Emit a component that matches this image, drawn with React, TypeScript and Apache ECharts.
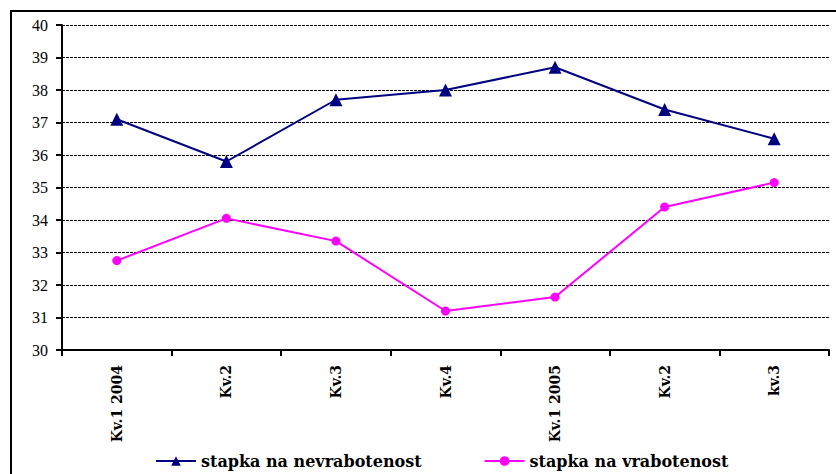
import React, { useEffect, useRef } from "react";
import * as echarts from "echarts";

const categories = ["Kv.1 2004", "Kv.2", "Kv.3", "Kv.4", "Kv.1 2005", "Kv.2", "kv.3"];
const unemployment = [37.1, 35.8, 37.7, 38.0, 38.7, 37.4, 36.5];
const employment = [32.75, 34.05, 33.35, 31.2, 31.63, 34.4, 35.15];
const seriesNames = ["stapka na nevrabotenost", "stapka na vrabotenost"];

export default function App() {
  const ref = useRef<HTMLDivElement>(null);
  useEffect(() => {
    const chart = echarts.init(ref.current!, null, { renderer: "svg" });
    chart.setOption({
      animation: false,
      backgroundColor: "#ffffff",
      graphic: [
        {
          type: "rect",
          shape: { x: 11, y: 11, width: 840, height: 480 },
          style: { fill: "none", stroke: "#000", lineWidth: 2 },
          silent: true,
        },
      ],
      grid: { left: 62, right: 7, top: 25, bottom: 124 },
      legend: {
        bottom: 0,
        left: 150,
        itemWidth: 40,
        itemHeight: 12,
        itemGap: 62,
        textStyle: { fontFamily: "DejaVu Serif", fontWeight: "bold", fontSize: 16, color: "#000" },
        data: seriesNames,
      },
      xAxis: {
        type: "category",
        data: categories,
        boundaryGap: true,
        axisLine: { lineStyle: { color: "#000", width: 2 } },
        axisTick: { show: true, length: 6, lineStyle: { color: "#000", width: 2 } },
        axisLabel: {
          rotate: 90,
          margin: 15,
          fontFamily: "DejaVu Serif",
          fontWeight: "bold",
          fontSize: 14,
          color: "#000",
        },
      },
      yAxis: {
        type: "value",
        min: 30,
        max: 40,
        interval: 1,
        axisLine: { show: true, lineStyle: { color: "#000", width: 2 } },
        axisTick: { show: true, length: 6, lineStyle: { color: "#000", width: 2 } },
        axisLabel: { fontFamily: "Liberation Serif", fontSize: 16, color: "#000", margin: 14 },
        splitLine: { show: true, lineStyle: { color: "#000", type: [3, 1], width: 1 } },
      },
      series: [
        {
          name: seriesNames[0],
          type: "line",
          data: unemployment,
          symbol: "triangle",
          symbolSize: 13,
          color: "#000080",
          lineStyle: { color: "#000080", width: 2 },
          itemStyle: { color: "#000080" },
        },
        {
          name: seriesNames[1],
          type: "line",
          data: employment,
          symbol: "circle",
          symbolSize: 9,
          color: "#ff00ff",
          lineStyle: { color: "#ff00ff", width: 2 },
          itemStyle: { color: "#ff00ff" },
        },
      ],
    });
    return () => chart.dispose();
  }, []);
  return (
    <div
      ref={ref}
      style={{ position: "fixed", left: 0, top: 0, width: 836, height: 474 }}
    />
  );
}
